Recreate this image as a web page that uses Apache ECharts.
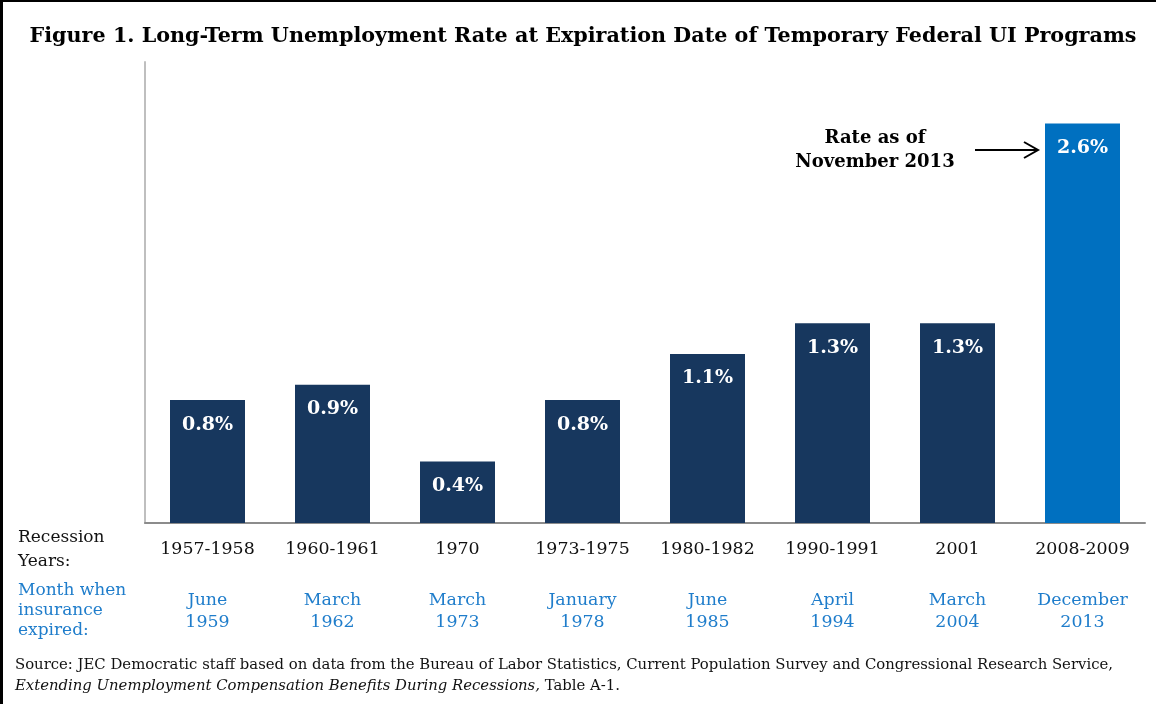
<!DOCTYPE html>
<html>
<head>
<meta charset="utf-8">
<script src="https://cdn.jsdelivr.net/npm/echarts@6/dist/echarts.min.js"></script>
<style>
html,body{margin:0;padding:0;background:#fff;}
#c{width:1156px;height:704px;}
</style>
</head>
<body>
<div id="c"></div>
<script>
var recessionYears = ['1957-1958','1960-1961','1970','1973-1975','1980-1982','1990-1991','2001','2008-2009'];
var expiryMonths = ['June','March','March','January','June','April','March','December'];
var expiryYears = ['1959','1962','1973','1978','1985','1994','2004','2013'];
var rates = [0.8, 0.9, 0.4, 0.8, 1.1, 1.3, 1.3, 2.6];
var yTicks = [0, 1, 2, 3];

var titleText = 'Figure 1. Long-Term Unemployment Rate at Expiration Date of Temporary Federal UI Programs';
var rowLabel1 = ['Recession', 'Years:'];
var rowLabel2 = ['Month when', 'insurance', 'expired:'];
var noteText = ['Rate as of', 'November 2013'];
var sourceLine1 = 'Source: JEC Democratic staff based on data from the Bureau of Labor Statistics, Current Population Survey and Congressional Research Service,';
var sourceLine2a = 'Extending Unemployment Compensation Benefits During Recessions,';
var sourceLine2b = ' Table A-1.';

var SERIF = '"DejaVu Serif", serif';
var DARK = '#17375E';
var BRIGHT = '#0070C0';
var BLUE_TXT = '#1F7DCB';

var chart = echarts.init(document.getElementById('c'), null, {renderer: 'canvas'});

var data = rates.map(function (v, i) {
  return {value: v, itemStyle: {color: i === rates.length - 1 ? BRIGHT : DARK}};
});

chart.setOption({
  animation: false,
  backgroundColor: '#fff',
  grid: {left: 145, right: 11, top: 62, bottom: 181, containLabel: false},
  xAxis: {
    type: 'category',
    data: recessionYears,
    axisLine: {show: true, lineStyle: {color: '#8c8c8c', width: 2}},
    axisTick: {show: false},
    axisLabel: {
      interval: 0,
      margin: 15,
      formatter: function (val, idx) {
        return '{y|' + val + '}\n{s|}\n{m|' + expiryMonths[idx] + '}\n{m|' + expiryYears[idx] + '}';
      },
      rich: {
        y: {fontFamily: SERIF, fontSize: 17.4, color: '#111', lineHeight: 22, align: 'center'},
        s: {lineHeight: 29},
        m: {fontFamily: SERIF, fontSize: 17.4, color: BLUE_TXT, lineHeight: 22, align: 'center'}
      }
    }
  },
  yAxis: {
    type: 'value',
    min: 0, max: 3, interval: 1,
    axisLine: {show: true, lineStyle: {color: '#bfbfbf', width: 2}},
    axisTick: {show: false},
    axisLabel: {show: false},
    splitLine: {show: false}
  },
  series: [{
    type: 'bar',
    data: data,
    barWidth: '60%',
    label: {
      show: true,
      position: 'insideTop',
      distance: 15,
      formatter: function (p) { return p.value.toFixed(1) + '%'; },
      fontFamily: SERIF,
      fontWeight: 'bold',
      fontSize: 19,
      color: '#fff'
    }
  }],
  graphic: [
    {type: 'rect', shape: {x: 0, y: 0, width: 3, height: 704}, style: {fill: '#000'}},
    {type: 'rect', shape: {x: 0, y: 0, width: 1156, height: 2}, style: {fill: '#000'}},
    {type: 'text', x: 583, y: 37, style: {text: titleText, font: 'bold 20.7px ' + SERIF, fill: '#000', textAlign: 'center', textVerticalAlign: 'middle'}},
    {type: 'text', x: 18, y: 538, style: {text: rowLabel1[0], font: '17px ' + SERIF, fill: '#111', textVerticalAlign: 'middle'}},
    {type: 'text', x: 18, y: 562, style: {text: rowLabel1[1], font: '17px ' + SERIF, fill: '#111', textVerticalAlign: 'middle'}},
    {type: 'text', x: 18, y: 591, style: {text: rowLabel2[0], font: '17px ' + SERIF, fill: BLUE_TXT, textVerticalAlign: 'middle'}},
    {type: 'text', x: 18, y: 611, style: {text: rowLabel2[1], font: '17px ' + SERIF, fill: BLUE_TXT, textVerticalAlign: 'middle'}},
    {type: 'text', x: 18, y: 631, style: {text: rowLabel2[2], font: '17px ' + SERIF, fill: BLUE_TXT, textVerticalAlign: 'middle'}},
    {type: 'text', x: 875, y: 138, style: {text: noteText[0], font: 'bold 18px ' + SERIF, fill: '#000', textAlign: 'center', textVerticalAlign: 'middle'}},
    {type: 'text', x: 875, y: 162, style: {text: noteText[1], font: 'bold 18px ' + SERIF, fill: '#000', textAlign: 'center', textVerticalAlign: 'middle'}},
    {type: 'line', shape: {x1: 975, y1: 150, x2: 1038, y2: 150}, style: {stroke: '#000', lineWidth: 2}},
    {type: 'polyline', shape: {points: [[1024, 142], [1038, 150], [1024, 158]]}, style: {stroke: '#000', lineWidth: 2, fill: null}},
    {type: 'text', x: 15, y: 665, style: {text: sourceLine1, font: '14.85px ' + SERIF, fill: '#111', textVerticalAlign: 'middle'}},
    {type: 'text', id: 'src2a', x: 15, y: 686, style: {text: sourceLine2a, font: 'italic 14.85px ' + SERIF, fill: '#111', textVerticalAlign: 'middle'}}
  ]
});

var w = echarts.format.getTextRect ? echarts.format.getTextRect(sourceLine2a, 'italic 14.85px ' + SERIF).width : 520;
chart.setOption({graphic: [{type: 'text', id: 'src2b', x: 15 + w, y: 686, style: {text: sourceLine2b, font: '14.85px ' + SERIF, fill: '#111', textVerticalAlign: 'middle'}}]});
</script>
</body>
</html>
